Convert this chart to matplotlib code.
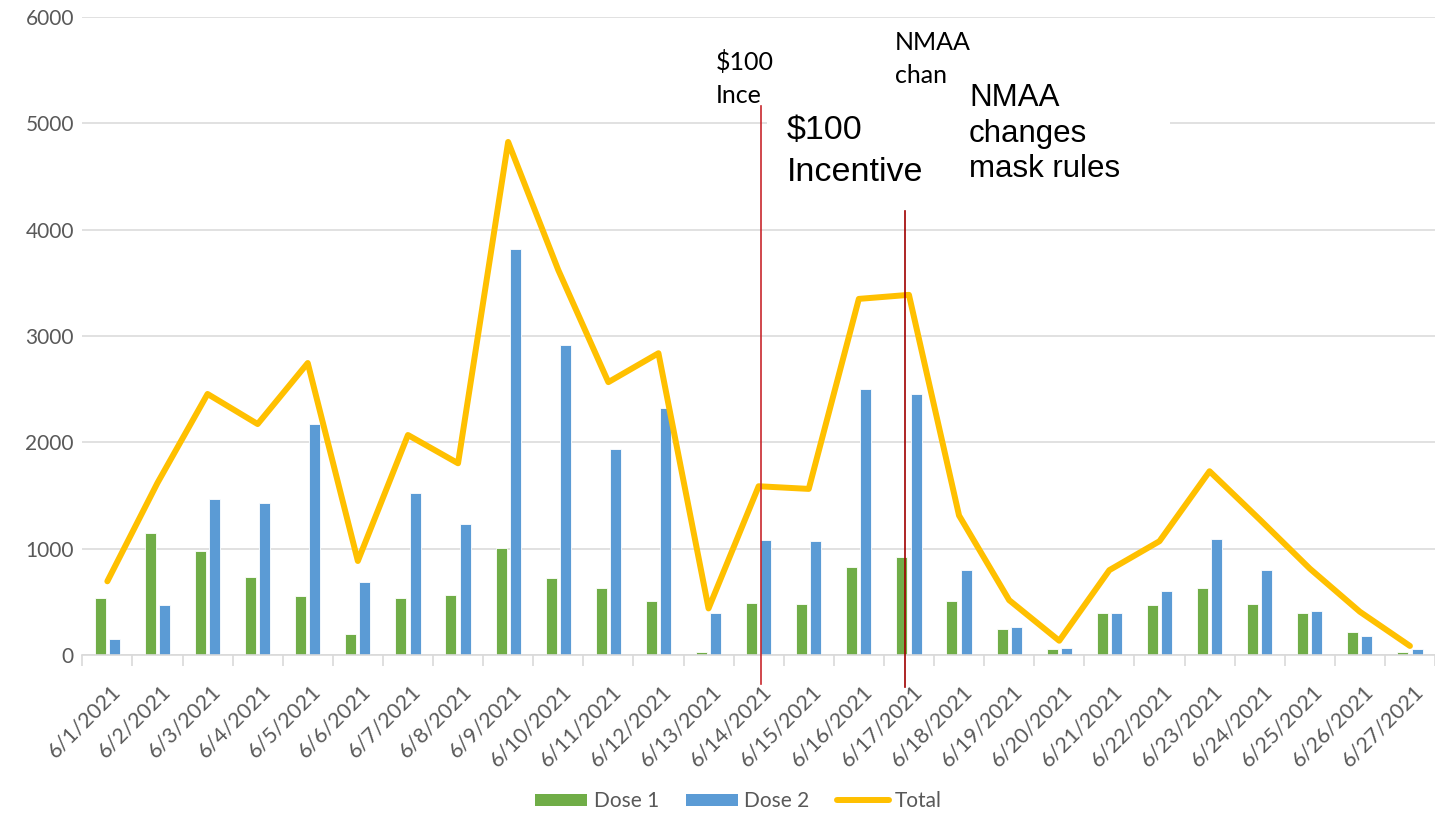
import numpy as np
import matplotlib
matplotlib.use("Agg")
import matplotlib.pyplot as plt
from matplotlib.patches import Patch, Rectangle
from matplotlib.lines import Line2D
from matplotlib.transforms import ScaledTranslation, blended_transform_factory

dates = ["6/1/2021", "6/2/2021", "6/3/2021", "6/4/2021", "6/5/2021", "6/6/2021",
         "6/7/2021", "6/8/2021", "6/9/2021", "6/10/2021", "6/11/2021", "6/12/2021",
         "6/13/2021", "6/14/2021", "6/15/2021", "6/16/2021", "6/17/2021", "6/18/2021",
         "6/19/2021", "6/20/2021", "6/21/2021", "6/22/2021", "6/23/2021", "6/24/2021",
         "6/25/2021", "6/26/2021", "6/27/2021"]
dose1 = [536, 1150, 978, 731, 558, 201, 533, 564, 1003, 720, 626, 504, 31, 491, 476,
         826, 920, 504, 244, 54, 394, 467, 632, 476, 394, 216, 25]
dose2 = [150, 467, 1464, 1429, 2172, 684, 1524, 1232, 3818, 2917, 1934, 2322, 391, 1086,
         1070, 2504, 2454, 801, 266, 69, 394, 601, 1089, 798, 416, 181, 54]
total = [693, 1618, 2455, 2172, 2746, 884, 2069, 1803, 4825, 3621, 2566, 2838, 438, 1587,
         1562, 3349, 3387, 1312, 516, 134, 798, 1070, 1728, 1275, 813, 407, 85]
yticks = [0, 1000, 2000, 3000, 4000, 5000, 6000]
event1_date = "6/14/2021"
event2_date = "6/17/2021"

GREEN = "#70AD47"
BLUE = "#5B9BD5"
YELLOW = "#FFC000"
GRID = "#D9D9D9"
TXT = "#595959"

W, H = 1435, 813
fig = plt.figure(figsize=(W / 100, H / 100), dpi=100)
fig.patch.set_facecolor("white")

def fx(px):
    return px / W

def fy(py):
    return 1 - py / H

cat_px = 50.47
ax = fig.add_axes([fx(82.3), fy(655), fx(1435 - 82.3), (655 - 17) / H])
x = np.arange(len(dates))
ax.set_xlim(-0.5, -0.5 + (1435 - 82.3) / cat_px)
ax.set_ylim(0, 6000)

ax.bar(x - 0.142, dose1, width=0.22, color=GREEN, edgecolor="white", linewidth=0.6, zorder=2)
ax.bar(x + 0.142, dose2, width=0.22, color=BLUE, edgecolor="white", linewidth=0.6, zorder=2)
ax.plot(x, total, color=YELLOW, lw=4.3, zorder=3, solid_joinstyle="round", solid_capstyle="round")

# axes styling
for s in ["top", "right", "left"]:
    ax.spines[s].set_visible(False)
ax.spines["bottom"].set_color(GRID)
ax.spines["bottom"].set_linewidth(1.2)
ax.set_yticks(yticks)
ax.set_yticklabels([str(v) for v in yticks], fontsize=15, color=TXT, family="Lato")
ax.yaxis.grid(True, color=GRID, linewidth=1.1, zorder=0)
ax.set_axisbelow(True)
ax.tick_params(axis="y", length=0, pad=6)

ax.set_xticks(x)
ax.set_xticklabels(dates, rotation=45, ha="right", va="top", rotation_mode="anchor",
                   fontsize=15.5, color=TXT, family="Lato")
ax.tick_params(axis="x", which="major", length=0, pad=19)
ax.set_xticks(np.arange(-0.5, len(dates), 1), minor=True)
ax.tick_params(axis="x", which="minor", length=8, width=1.2, color=GRID)
for lab in ax.get_xticklabels():
    lab.set_transform(lab.get_transform() + ScaledTranslation(3 / 100, 0, fig.dpi_scale_trans))

# white annotation box
box = Rectangle((fx(767), fy(210)), fx(1170 - 767), (210 - 80) / H, transform=fig.transFigure,
                facecolor="white", edgecolor="none", zorder=4, clip_on=False)
ax.add_patch(box)

# red event lines (hand-placed slightly off the category centres, as in the original)
bt = blended_transform_factory(ax.transData, fig.transFigure)
i1 = dates.index(event1_date) + 0.04
i2 = dates.index(event2_date) - 0.07
ax.add_line(Line2D([i1, i1], [fy(684), fy(106)], transform=bt, color="#C8282D", lw=1.2,
                   zorder=5, clip_on=False))
ax.add_line(Line2D([i2, i2], [fy(687), fy(211)], transform=bt, color="#A00000", lw=1.2,
                   zorder=5, clip_on=False))

# annotation texts
fig.text(fx(716), fy(50), "$100\nInce", fontsize=18, family="Lato", color="black",
         va="top", ha="left", linespacing=1.55, zorder=6)
fig.text(fx(895), fy(31), "NMAA\nchan", fontsize=18, family="Lato", color="black",
         va="top", ha="left", linespacing=1.55, zorder=6)
fig.text(fx(787), fy(115), "$100\nIncentive", fontsize=24.5, family="Liberation Sans",
         color="black", va="top", ha="left", linespacing=1.47, zorder=6)
fig.text(fx(969), fy(83), "NMAA\nchanges\nmask rules", fontsize=22.5, family="Liberation Sans",
         color="black", va="top", ha="left", linespacing=1.24, zorder=6)

# legend
handles = [Patch(facecolor=GREEN, edgecolor="none", label="Dose 1"),
           Patch(facecolor=BLUE, edgecolor="none", label="Dose 2"),
           Line2D([], [], color=YELLOW, lw=4.3, solid_capstyle="round", label="Total")]
leg = fig.legend(handles=handles, loc="center", bbox_to_anchor=(fx(738.5), fy(801)), ncol=3,
                 frameon=False, handlelength=2.5, handleheight=0.5,
                 handletextpad=0.3, columnspacing=1.3, prop={"family": "Lato", "size": 15})
for t in leg.get_texts():
    t.set_color(TXT)

fig.savefig("out.png", dpi=100)
